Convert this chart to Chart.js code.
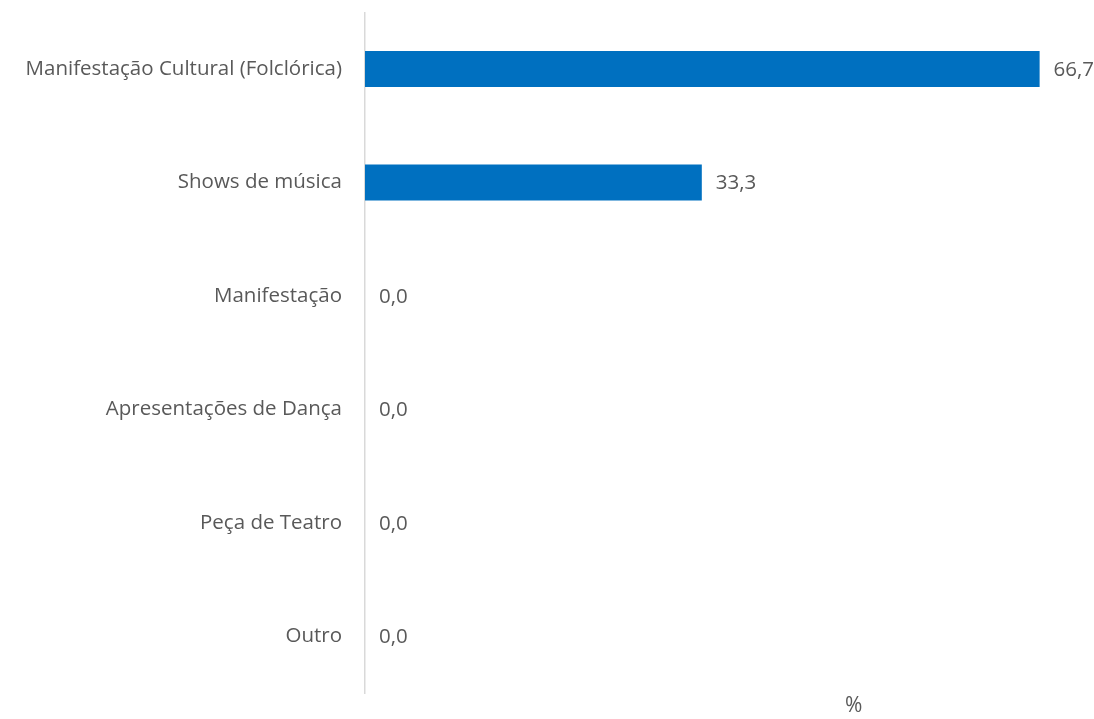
<!DOCTYPE html>
<html>
<head>
<meta charset="utf-8">
<script src="https://cdn.jsdelivr.net/npm/chart.js@4.4.1/dist/chart.umd.min.js"></script>
<style>
    html, body { margin: 0; padding: 0; background: #ffffff; }
    #wrap { position: relative; width: 1094px; height: 719px; }
    #unit { position: absolute; left: 845px; top: 690px; font: 21px "Open Sans", sans-serif; color: #595959; }
</style>
</head>
<body>
<div id="wrap">
    <canvas id="cultureChart" width="1094" height="719"></canvas>
    <div id="unit">%</div>
</div>
<script>
// Event types and share of answers (%)
const categories = [
    "Manifestação Cultural (Folclórica)",
    "Shows de música",
    "Manifestação",
    "Apresentações de Dança",
    "Peça de Teatro",
    "Outro",
]
const percentages = [66.7, 33.3, 0.0, 0.0, 0.0, 0.0]

const textColor = "#595959"
const fontFamily = '"Open Sans", sans-serif'

// draw the value next to each bar
const barValueLabels = {
    id: "barValueLabels",
    afterDatasetsDraw(chart) {
        const ctx = chart.ctx
        const meta = chart.getDatasetMeta(0)
        ctx.save()
        ctx.fillStyle = textColor
        ctx.font = "20.5px " + fontFamily
        ctx.textBaseline = "middle"
        ctx.textAlign = "left"
        meta.data.forEach((bar, i) => {
            const text = percentages[i].toFixed(1).replace(".", ",")
            ctx.fillText(text, bar.x + 14, bar.y + 1)
        })
        ctx.restore()
    },
}

const ctx = document.getElementById("cultureChart")
new Chart(ctx.getContext("2d"), {
    type: "bar",
    data: {
        labels: categories,
        datasets: [
            {
                data: percentages,
                backgroundColor: "#0070C0",
                borderWidth: 0,
                barPercentage: 0.317,
                categoryPercentage: 1.0,
            },
        ],
    },
    options: {
        indexAxis: "y",
        responsive: false,
        animation: false,
        layout: {
            padding: { top: 12, right: 21, bottom: 26, left: 0 },
        },
        plugins: {
            legend: { display: false },
            tooltip: { enabled: false },
        },
        scales: {
            x: {
                display: false,
                min: 0,
                max: 70,
            },
            y: {
                afterFit: (scale) => {
                    scale.width = 365
                },
                grid: {
                    display: true,
                    drawOnChartArea: false,
                    drawTicks: true,
                    tickLength: 23,
                    tickColor: "rgba(0,0,0,0)",
                },
                border: { display: true, color: "#d9d9d9", width: 1.5 },
                ticks: {
                    color: textColor,
                    padding: 0,
                    font: { family: fontFamily, size: 20.5 },
                },
            },
        },
    },
    plugins: [barValueLabels],
})
</script>
</body>
</html>
